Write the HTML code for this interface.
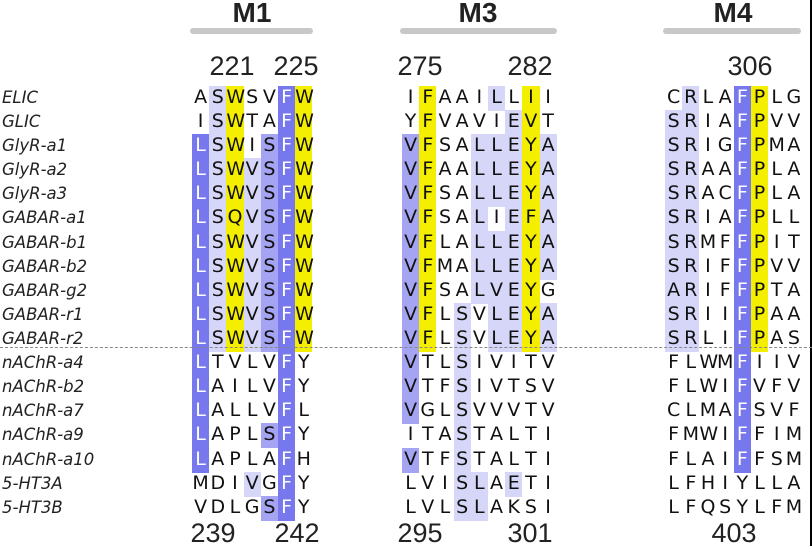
<!DOCTYPE html>
<html><head><meta charset="utf-8"><style>
html,body{margin:0;padding:0;background:#fff;}
body{width:812px;height:546px;position:relative;overflow:hidden;}
.edge{position:absolute;right:0;top:0;width:2px;height:546px;background:#000;}
.h{position:absolute;top:-3px;font:bold 28px "Liberation Sans",sans-serif;color:#222;text-align:center;width:100px;}
.bar{position:absolute;top:28px;height:6px;border-radius:3px;background:#c8c8c8;}
.n{position:absolute;font:27px "Liberation Sans",sans-serif;color:#222;text-align:center;width:60px;}
.lab{position:absolute;left:2px;font:italic 16.5px "DejaVu Sans",sans-serif;color:#222;height:24px;line-height:24px;}
.r{position:absolute;height:25px;white-space:nowrap;font-size:0;}
.r i{display:inline-block;width:17.2px;height:25px;line-height:25px;text-align:center;font:normal 19px "DejaVu Sans",sans-serif;color:#111;font-style:normal;vertical-align:top;}
.r i.d{background:#7878ee;color:#fff;}
.r i.m{background:#a4a4f2;}
.r i.l{background:#d6d6f8;}
.r i.y{background:#f4ee00;}
.dash{position:absolute;left:0;top:347px;width:812px;border-top:1.5px dashed #888;}
</style></head><body>
<div class="edge"></div>
<div class="h" style="left:202px">M1</div>
<div class="h" style="left:428px">M3</div>
<div class="h" style="left:683px">M4</div>
<div class="bar" style="left:190px;width:123px"></div>
<div class="bar" style="left:400px;width:157px"></div>
<div class="bar" style="left:663px;width:138px"></div>
<div class="n" style="left:202px;top:51px">221</div>
<div class="n" style="left:266px;top:51px">225</div>
<div class="n" style="left:390px;top:51px">275</div>
<div class="n" style="left:500px;top:51px">282</div>
<div class="n" style="left:720px;top:51px">306</div>
<div class="n" style="left:183px;top:518px">239</div>
<div class="n" style="left:267px;top:518px">242</div>
<div class="n" style="left:390px;top:518px">295</div>
<div class="n" style="left:500px;top:518px">301</div>
<div class="n" style="left:704px;top:518px">403</div>

<div class="lab" style="top:86px">ELIC</div>
<div class="lab" style="top:110px">GLIC</div>
<div class="lab" style="top:134px">GlyR-a1</div>
<div class="lab" style="top:158px">GlyR-a2</div>
<div class="lab" style="top:182px">GlyR-a3</div>
<div class="lab" style="top:206px">GABAR-a1</div>
<div class="lab" style="top:231px">GABAR-b1</div>
<div class="lab" style="top:255px">GABAR-b2</div>
<div class="lab" style="top:279px">GABAR-g2</div>
<div class="lab" style="top:303px">GABAR-r1</div>
<div class="lab" style="top:327px">GABAR-r2</div>
<div class="lab" style="top:351px">nAChR-a4</div>
<div class="lab" style="top:375px">nAChR-b2</div>
<div class="lab" style="top:399px">nAChR-a7</div>
<div class="lab" style="top:423px">nAChR-a9</div>
<div class="lab" style="top:448px">nAChR-a10</div>
<div class="lab" style="top:472px">5-HT3A</div>
<div class="lab" style="top:496px">5-HT3B</div>

<!-- M1 -->
<div class="r" style="left:192px;top:86px"><i>A</i><i class="l">S</i><i class="y">W</i><i>S</i><i>V</i><i class="d">F</i><i class="y">W</i></div>
<div class="r" style="left:192px;top:110px"><i>I</i><i class="l">S</i><i class="y">W</i><i>T</i><i>A</i><i class="d">F</i><i class="y">W</i></div>
<div class="r" style="left:192px;top:134px"><i class="d">L</i><i class="l">S</i><i class="y">W</i><i>I</i><i class="m">S</i><i class="d">F</i><i class="y">W</i></div>
<div class="r" style="left:192px;top:158px"><i class="d">L</i><i class="l">S</i><i class="y">W</i><i class="l">V</i><i class="m">S</i><i class="d">F</i><i class="y">W</i></div>
<div class="r" style="left:192px;top:182px"><i class="d">L</i><i class="l">S</i><i class="y">W</i><i class="l">V</i><i class="m">S</i><i class="d">F</i><i class="y">W</i></div>
<div class="r" style="left:192px;top:206px"><i class="d">L</i><i class="l">S</i><i class="y">Q</i><i class="l">V</i><i class="m">S</i><i class="d">F</i><i class="y">W</i></div>
<div class="r" style="left:192px;top:231px"><i class="d">L</i><i class="l">S</i><i class="y">W</i><i class="l">V</i><i class="m">S</i><i class="d">F</i><i class="y">W</i></div>
<div class="r" style="left:192px;top:255px"><i class="d">L</i><i class="l">S</i><i class="y">W</i><i class="l">V</i><i class="m">S</i><i class="d">F</i><i class="y">W</i></div>
<div class="r" style="left:192px;top:279px"><i class="d">L</i><i class="l">S</i><i class="y">W</i><i class="l">V</i><i class="m">S</i><i class="d">F</i><i class="y">W</i></div>
<div class="r" style="left:192px;top:303px"><i class="d">L</i><i class="l">S</i><i class="y">W</i><i class="l">V</i><i class="m">S</i><i class="d">F</i><i class="y">W</i></div>
<div class="r" style="left:192px;top:327px"><i class="d">L</i><i class="l">S</i><i class="y">W</i><i class="l">V</i><i class="m">S</i><i class="d">F</i><i class="y">W</i></div>
<div class="r" style="left:192px;top:351px"><i class="d">L</i><i>T</i><i>V</i><i>L</i><i>V</i><i class="d">F</i><i>Y</i></div>
<div class="r" style="left:192px;top:375px"><i class="d">L</i><i>A</i><i>I</i><i>L</i><i>V</i><i class="d">F</i><i>Y</i></div>
<div class="r" style="left:192px;top:399px"><i class="d">L</i><i>A</i><i>L</i><i>L</i><i>V</i><i class="d">F</i><i>L</i></div>
<div class="r" style="left:192px;top:423px"><i class="d">L</i><i>A</i><i>P</i><i>L</i><i class="m">S</i><i class="d">F</i><i>Y</i></div>
<div class="r" style="left:192px;top:448px"><i class="d">L</i><i>A</i><i>P</i><i>L</i><i>A</i><i class="d">F</i><i>H</i></div>
<div class="r" style="left:192px;top:472px"><i>M</i><i>D</i><i>I</i><i class="l">V</i><i>G</i><i class="d">F</i><i>Y</i></div>
<div class="r" style="left:192px;top:496px"><i>V</i><i>D</i><i>L</i><i>G</i><i class="m">S</i><i class="d">F</i><i>Y</i></div>

<!-- M3 -->
<div class="r" style="left:402px;top:86px"><i>I</i><i class="y">F</i><i>A</i><i>A</i><i>I</i><i class="l">L</i><i>L</i><i class="y">I</i><i>I</i></div>
<div class="r" style="left:402px;top:110px"><i>Y</i><i class="y">F</i><i>V</i><i>A</i><i>V</i><i>I</i><i class="l">E</i><i class="y">V</i><i>T</i></div>
<div class="r" style="left:402px;top:134px"><i class="m">V</i><i class="y">F</i><i>S</i><i>A</i><i class="l">L</i><i class="l">L</i><i class="l">E</i><i class="y">Y</i><i class="l">A</i></div>
<div class="r" style="left:402px;top:158px"><i class="m">V</i><i class="y">F</i><i>A</i><i>A</i><i class="l">L</i><i class="l">L</i><i class="l">E</i><i class="y">Y</i><i class="l">A</i></div>
<div class="r" style="left:402px;top:182px"><i class="m">V</i><i class="y">F</i><i>S</i><i>A</i><i class="l">L</i><i class="l">L</i><i class="l">E</i><i class="y">Y</i><i class="l">A</i></div>
<div class="r" style="left:402px;top:206px"><i class="m">V</i><i class="y">F</i><i>S</i><i>A</i><i class="l">L</i><i>I</i><i class="l">E</i><i class="y">F</i><i class="l">A</i></div>
<div class="r" style="left:402px;top:231px"><i class="m">V</i><i class="y">F</i><i>L</i><i>A</i><i class="l">L</i><i class="l">L</i><i class="l">E</i><i class="y">Y</i><i class="l">A</i></div>
<div class="r" style="left:402px;top:255px"><i class="m">V</i><i class="y">F</i><i>M</i><i>A</i><i class="l">L</i><i class="l">L</i><i class="l">E</i><i class="y">Y</i><i class="l">A</i></div>
<div class="r" style="left:402px;top:279px"><i class="m">V</i><i class="y">F</i><i>S</i><i>A</i><i class="l">L</i><i class="l">V</i><i class="l">E</i><i class="y">Y</i><i>G</i></div>
<div class="r" style="left:402px;top:303px"><i class="m">V</i><i class="y">F</i><i>L</i><i class="l">S</i><i>V</i><i class="l">L</i><i class="l">E</i><i class="y">Y</i><i class="l">A</i></div>
<div class="r" style="left:402px;top:327px"><i class="m">V</i><i class="y">F</i><i>L</i><i class="l">S</i><i>V</i><i class="l">L</i><i class="l">E</i><i class="y">Y</i><i class="l">A</i></div>
<div class="r" style="left:402px;top:351px"><i class="m">V</i><i>T</i><i>L</i><i class="l">S</i><i>I</i><i>V</i><i>I</i><i>T</i><i>V</i></div>
<div class="r" style="left:402px;top:375px"><i class="m">V</i><i>T</i><i>F</i><i class="l">S</i><i>I</i><i>V</i><i>T</i><i>S</i><i>V</i></div>
<div class="r" style="left:402px;top:399px"><i class="m">V</i><i>G</i><i>L</i><i class="l">S</i><i>V</i><i>V</i><i>V</i><i>T</i><i>V</i></div>
<div class="r" style="left:402px;top:423px"><i>I</i><i>T</i><i>A</i><i class="l">S</i><i>T</i><i>A</i><i>L</i><i>T</i><i>I</i></div>
<div class="r" style="left:402px;top:448px"><i class="m">V</i><i>T</i><i>F</i><i class="l">S</i><i>T</i><i>A</i><i>L</i><i>T</i><i>I</i></div>
<div class="r" style="left:402px;top:472px"><i>L</i><i>V</i><i>I</i><i class="l">S</i><i class="l">L</i><i>A</i><i class="l">E</i><i>T</i><i>I</i></div>
<div class="r" style="left:402px;top:496px"><i>L</i><i>V</i><i>L</i><i class="l">S</i><i class="l">L</i><i>A</i><i>K</i><i>S</i><i>I</i></div>

<!-- M4 -->
<div class="r" style="left:665px;top:86px"><i>C</i><i class="l">R</i><i>L</i><i>A</i><i class="d">F</i><i class="y">P</i><i>L</i><i>G</i></div>
<div class="r" style="left:665px;top:110px"><i class="l">S</i><i class="l">R</i><i>I</i><i>A</i><i class="d">F</i><i class="y">P</i><i>V</i><i>V</i></div>
<div class="r" style="left:665px;top:134px"><i class="l">S</i><i class="l">R</i><i>I</i><i>G</i><i class="d">F</i><i class="y">P</i><i>M</i><i>A</i></div>
<div class="r" style="left:665px;top:158px"><i class="l">S</i><i class="l">R</i><i>A</i><i>A</i><i class="d">F</i><i class="y">P</i><i>L</i><i>A</i></div>
<div class="r" style="left:665px;top:182px"><i class="l">S</i><i class="l">R</i><i>A</i><i>C</i><i class="d">F</i><i class="y">P</i><i>L</i><i>A</i></div>
<div class="r" style="left:665px;top:206px"><i class="l">S</i><i class="l">R</i><i>I</i><i>A</i><i class="d">F</i><i class="y">P</i><i>L</i><i>L</i></div>
<div class="r" style="left:665px;top:231px"><i class="l">S</i><i class="l">R</i><i>M</i><i>F</i><i class="d">F</i><i class="y">P</i><i>I</i><i>T</i></div>
<div class="r" style="left:665px;top:255px"><i class="l">S</i><i class="l">R</i><i>I</i><i>F</i><i class="d">F</i><i class="y">P</i><i>V</i><i>V</i></div>
<div class="r" style="left:665px;top:279px"><i class="l">A</i><i class="l">R</i><i>I</i><i>F</i><i class="d">F</i><i class="y">P</i><i>T</i><i>A</i></div>
<div class="r" style="left:665px;top:303px"><i class="l">S</i><i class="l">R</i><i>I</i><i>I</i><i class="d">F</i><i class="y">P</i><i>A</i><i>A</i></div>
<div class="r" style="left:665px;top:327px"><i class="l">S</i><i class="l">R</i><i>L</i><i>I</i><i class="d">F</i><i class="y">P</i><i>A</i><i>S</i></div>
<div class="r" style="left:665px;top:351px"><i>F</i><i>L</i><i>W</i><i>M</i><i class="d">F</i><i>I</i><i>I</i><i>V</i></div>
<div class="r" style="left:665px;top:375px"><i>F</i><i>L</i><i>W</i><i>I</i><i class="d">F</i><i>V</i><i>F</i><i>V</i></div>
<div class="r" style="left:665px;top:399px"><i>C</i><i>L</i><i>M</i><i>A</i><i class="d">F</i><i>S</i><i>V</i><i>F</i></div>
<div class="r" style="left:665px;top:423px"><i>F</i><i>M</i><i>W</i><i>I</i><i class="d">F</i><i>F</i><i>I</i><i>M</i></div>
<div class="r" style="left:665px;top:448px"><i>F</i><i>L</i><i>A</i><i>I</i><i class="d">F</i><i>F</i><i>S</i><i>M</i></div>
<div class="r" style="left:665px;top:472px"><i>L</i><i>F</i><i>H</i><i>I</i><i>Y</i><i>L</i><i>L</i><i>A</i></div>
<div class="r" style="left:665px;top:496px"><i>L</i><i>F</i><i>Q</i><i>S</i><i>Y</i><i>L</i><i>F</i><i>M</i></div>

<div class="dash"></div>
</body></html>
